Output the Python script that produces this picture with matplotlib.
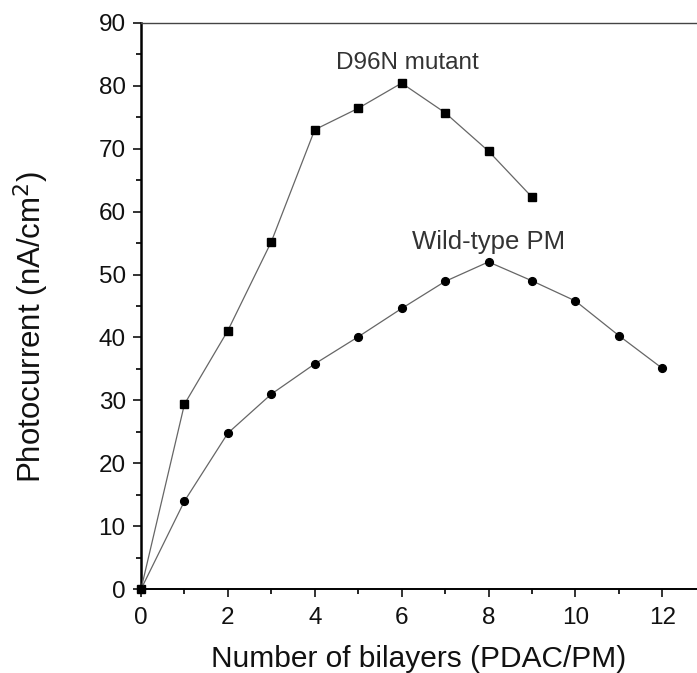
import numpy as np
import matplotlib
matplotlib.use('Agg')
import matplotlib.pyplot as plt
from matplotlib.ticker import MultipleLocator

plt.rcParams['font.family'] = ['Liberation Sans', 'DejaVu Sans']

# bilayer counts and photocurrents (nA/cm2)
n_mutant = [0, 1, 2, 3, 4, 5, 6, 7, 8, 9]
i_mutant = [0, 29.4, 41.1, 55.2, 73.0, 76.4, 80.4, 75.7, 69.6, 62.3]
n_wild = [0, 1, 2, 3, 4, 5, 6, 7, 8, 9, 10, 11, 12]
i_wild = [0, 14.0, 24.8, 31.0, 35.8, 40.1, 44.6, 48.9, 52.0, 49.0, 45.8, 40.3, 35.1]

x_ticks = [0, 2, 4, 6, 8, 10, 12]
y_ticks = [0, 10, 20, 30, 40, 50, 60, 70, 80, 90]


def main():
    fig = plt.figure(figsize=(6.97, 6.73), dpi=100)
    ax = fig.add_axes([0.2023, 0.1244, 0.7977, 0.8419])

    ax.plot(n_mutant, i_mutant, color='#666666', lw=0.9, marker='s',
            ms=6.3, mfc='black', mec='black', clip_on=False, zorder=3)
    ax.plot(n_wild, i_wild, color='#666666', lw=0.9, marker='o',
            ms=5.6, mfc='black', mec='black', clip_on=False, zorder=3)

    ax.text(4.5, 83.6, 'D96N mutant', fontsize=17.5, color='#333333',
            va='center', ha='left')
    ax.text(6.25, 55.2, 'Wild-type PM', fontsize=18.5, color='#333333',
            va='center', ha='left')

    ax.set_xlim(0, 12.8)
    ax.set_ylim(0, 90)
    ax.set_xticks(x_ticks)
    ax.set_yticks(y_ticks)
    ax.xaxis.set_minor_locator(MultipleLocator(1))
    ax.yaxis.set_minor_locator(MultipleLocator(5))
    ax.tick_params(which='major', direction='out', length=6, width=1.2,
                   labelsize=17.5, pad=5, colors='#111111')
    ax.tick_params(axis='x', which='major', pad=7)
    ax.tick_params(which='minor', direction='out', length=3.5, width=1.2)

    ax.spines['right'].set_visible(False)
    ax.spines['left'].set_linewidth(1.8)
    ax.spines['bottom'].set_linewidth(1.4)
    ax.spines['top'].set_linewidth(1.0)
    ax.spines['top'].set_color('#444444')

    ax.set_xlabel('Number of bilayers (PDAC/PM)', fontsize=21.5, labelpad=11,
                  color='#111111')
    ax.set_ylabel('Photocurrent (nA/cm$^2$)', fontsize=22.5, color='#111111')
    ax.yaxis.set_label_coords(-0.161, 0.463)

    fig.savefig('out.png', dpi=100)


if __name__ == '__main__':
    main()
